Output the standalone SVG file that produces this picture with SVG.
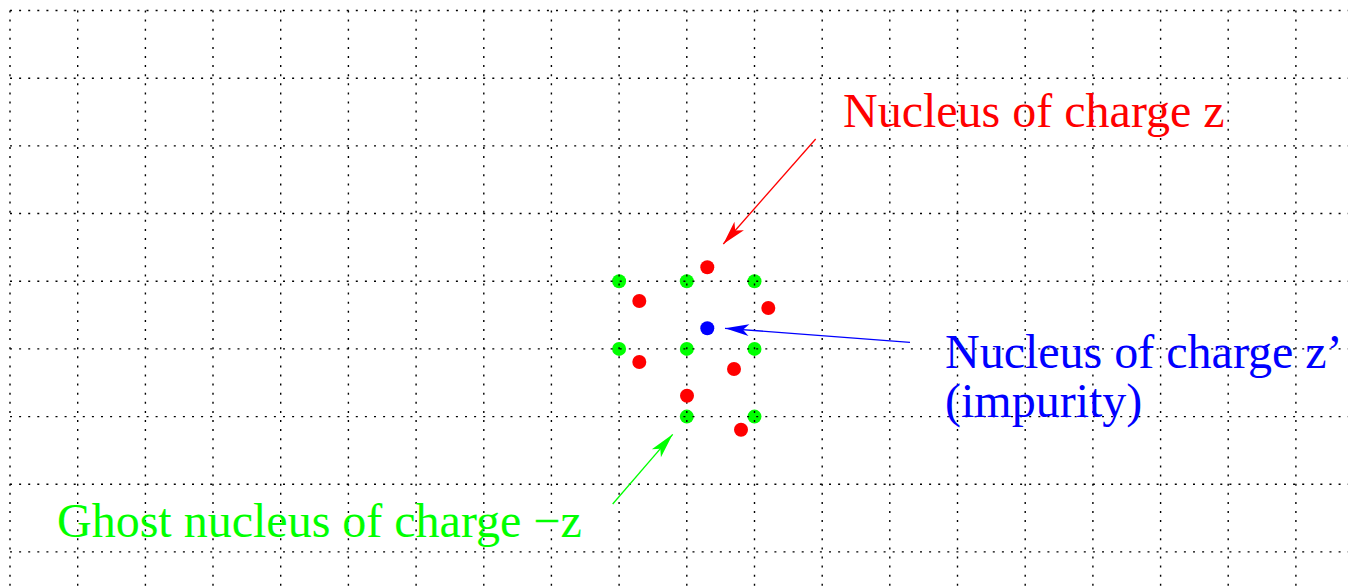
<svg xmlns="http://www.w3.org/2000/svg" width="1348" height="588" viewBox="0 0 1348 588">
<style>
.grid line{stroke:#000;stroke-width:1.4;stroke-dasharray:2 7.1;fill:none}
.txt{font-family:"Liberation Serif","Times New Roman",serif;font-size:48px}
</style>
<defs>
<marker id="ahR" markerUnits="userSpaceOnUse" markerWidth="40" markerHeight="40" viewBox="-30 -15 40 30" refX="0" refY="0" orient="auto" overflow="visible"><path d="M0,0 L-24,-6.3 L-18,0 L-24,6.3 Z" fill="#ff0000"/></marker>
<marker id="ahB" markerUnits="userSpaceOnUse" markerWidth="40" markerHeight="40" viewBox="-30 -15 40 30" refX="0" refY="0" orient="auto" overflow="visible"><path d="M0,0 L-24,-6 L-18,0 L-24,6 Z" fill="#0000ff"/></marker>
<marker id="ahG" markerUnits="userSpaceOnUse" markerWidth="40" markerHeight="40" viewBox="-30 -15 40 30" refX="0" refY="0" orient="auto" overflow="visible"><path d="M0,0 L-25,-6 L-19,0 L-25,6 Z" fill="#00ff00"/></marker>
</defs>
<rect width="1348" height="588" fill="#fff"/>
<g id="ghosts" fill="#00ff00">
<circle cx="619.1" cy="281.2" r="7"/>
<circle cx="686.8" cy="281.2" r="7"/>
<circle cx="754.5" cy="281.2" r="7"/>
<circle cx="619.1" cy="348.9" r="7"/>
<circle cx="686.8" cy="348.9" r="7"/>
<circle cx="754.5" cy="348.9" r="7"/>
<circle cx="686.8" cy="416.6" r="7"/>
<circle cx="754.5" cy="416.6" r="7"/>
</g>
<g class="grid" id="grid">
<line x1="10" y1="10.5" x2="10" y2="588"/>
<line x1="77.7" y1="10.5" x2="77.7" y2="588"/>
<line x1="145.4" y1="10.5" x2="145.4" y2="588"/>
<line x1="213" y1="10.5" x2="213" y2="588"/>
<line x1="280.7" y1="10.5" x2="280.7" y2="588"/>
<line x1="348.4" y1="10.5" x2="348.4" y2="588"/>
<line x1="416.1" y1="10.5" x2="416.1" y2="588"/>
<line x1="483.8" y1="10.5" x2="483.8" y2="588"/>
<line x1="551.4" y1="10.5" x2="551.4" y2="588"/>
<line x1="619.1" y1="10.5" x2="619.1" y2="588"/>
<line x1="686.8" y1="10.5" x2="686.8" y2="588"/>
<line x1="754.5" y1="10.5" x2="754.5" y2="588"/>
<line x1="822.2" y1="10.5" x2="822.2" y2="588"/>
<line x1="889.8" y1="10.5" x2="889.8" y2="588"/>
<line x1="957.5" y1="10.5" x2="957.5" y2="588"/>
<line x1="1025.2" y1="10.5" x2="1025.2" y2="588"/>
<line x1="1092.9" y1="10.5" x2="1092.9" y2="588"/>
<line x1="1160.6" y1="10.5" x2="1160.6" y2="588"/>
<line x1="1228.2" y1="10.5" x2="1228.2" y2="588"/>
<line x1="1295.9" y1="10.5" x2="1295.9" y2="588"/>
<line x1="10" y1="10.5" x2="1348" y2="10.5"/>
<line x1="10" y1="78.2" x2="1348" y2="78.2"/>
<line x1="10" y1="145.9" x2="1348" y2="145.9"/>
<line x1="10" y1="213.5" x2="1348" y2="213.5"/>
<line x1="10" y1="281.2" x2="1348" y2="281.2"/>
<line x1="10" y1="348.9" x2="1348" y2="348.9"/>
<line x1="10" y1="416.6" x2="1348" y2="416.6"/>
<line x1="10" y1="484.3" x2="1348" y2="484.3"/>
<line x1="10" y1="551.9" x2="1348" y2="551.9"/>
</g>
<g id="nuclei" fill="#ff0000">
<circle cx="707.3" cy="267.3" r="7"/>
<circle cx="639.3" cy="301" r="7"/>
<circle cx="768.3" cy="308" r="7"/>
<circle cx="639.3" cy="362" r="7"/>
<circle cx="734" cy="369" r="7"/>
<circle cx="687" cy="395.7" r="7"/>
<circle cx="741" cy="429.7" r="7"/>
</g>
<g id="impurity"><circle cx="707.3" cy="328.3" r="7" fill="#0000ff"/></g>
<g id="connectors" fill="none" stroke-width="1.3">
<line x1="815.7" y1="139" x2="723.3" y2="244" stroke="#ff0000" marker-end="url(#ahR)"/>
<line x1="910" y1="342.3" x2="725" y2="328.3" stroke="#0000ff" marker-end="url(#ahB)"/>
<line x1="612.7" y1="504" x2="672.7" y2="434.3" stroke="#00ff00" marker-end="url(#ahG)"/>
</g>
<g id="label-nucleus"><text class="txt" x="843" y="127" fill="#ff0000">Nucleus of charge z</text></g>
<g id="label-impurity"><text class="txt" x="945" y="368" fill="#0000ff">Nucleus of charge z’</text><text class="txt" x="945" y="417" fill="#0000ff">(impurity)</text></g>
<g id="label-ghost"><text class="txt" x="57" y="537" fill="#00ff00">Ghost nucleus of charge −z</text></g>
</svg>
